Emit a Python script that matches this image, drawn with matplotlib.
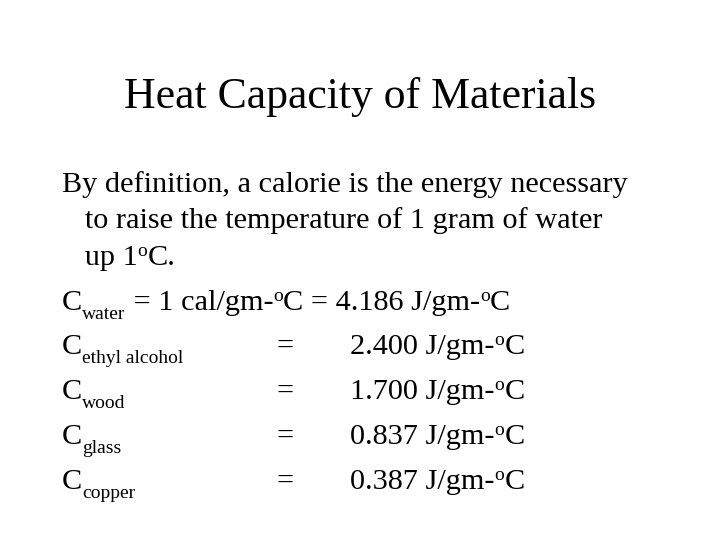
import matplotlib
matplotlib.use("Agg")
import matplotlib.pyplot as plt

plt.rcParams['font.family'] = ['Liberation Serif', 'DejaVu Serif']

title = "Heat Capacity of Materials"
materials = ["ethyl alcohol", "wood", "glass", "copper"]
values = ["2.400", "1.700", "0.837", "0.387"]
water_values = ["1 cal/gm-", "4.186 J/gm-"]

W, H = 720, 540
fig = plt.figure(figsize=(7.2, 5.4), dpi=100)
ax = fig.add_axes([0, 0, 1, 1])
ax.set_xlim(0, W); ax.set_ylim(H, 0); ax.axis('off')
r = fig.canvas.get_renderer()

fs = 21.8
small = 14

def runs(x, y, parts):
    # parts: list of (text, kind) kind in 'n','sub','sup'
    for t, k in parts:
        size = fs if k == 'n' else small
        dy = 0 if k == 'n' else (9 if k == 'sub' else -9)
        txt = ax.text(x, y + dy, t, fontsize=size, ha='left', va='baseline')
        bb = txt.get_window_extent(r)
        x += bb.width
    return x

ax.text(360, 108, title, fontsize=31.5, ha='center', va='baseline')
runs(62, 192, [("By definition, a calorie is the energy necessary", 'n')])
runs(62, 228, [("   to raise the temperature of 1 gram of water", 'n')])
runs(62, 265, [("   up 1", 'n'), ("o", 'sup'), ("C.", 'n')])
runs(62, 310, [("C", 'n'), ("water", 'sub'), (" = " + water_values[0], 'n'), ("o", 'sup'),
               ("C = " + water_values[1], 'n'), ("o", 'sup'), ("C", 'n')])
for i, (m, v) in enumerate(zip(materials, values)):
    y = 354 + 45 * i
    runs(62, y, [("C", 'n'), (m, 'sub')])
    runs(276, y, [("=", 'n')])
    runs(350, y, [(v + " J/gm-", 'n'), ("o", 'sup'), ("C", 'n')])

fig.savefig("out.png", dpi=100)
